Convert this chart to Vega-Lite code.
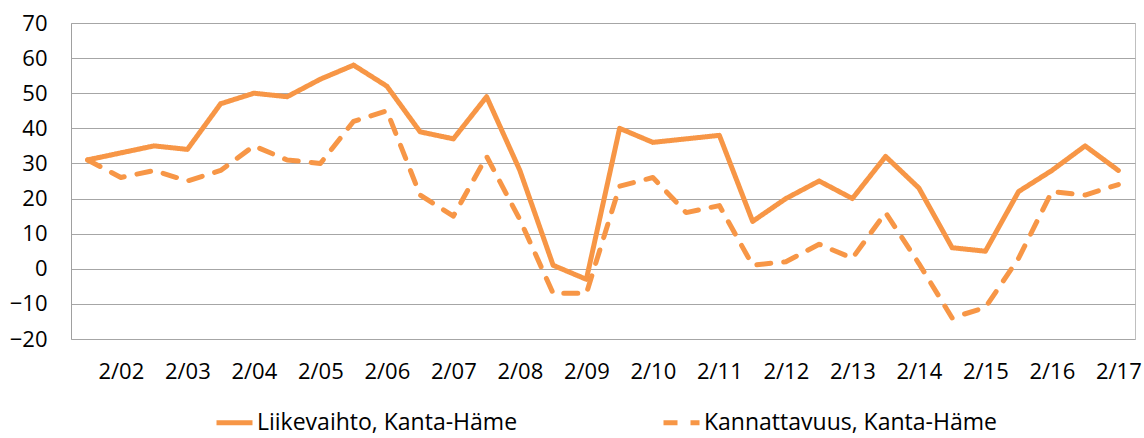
{
  "$schema": "https://vega.github.io/schema/vega-lite/v6.json",
  "width": 1064,
  "height": 316,
  "autosize": {"type": "none"},
  "padding": {"left": 71, "top": 23, "right": 9, "bottom": 99},
  "config": {
    "font": "Open Sans",
    "view": {"stroke": "#BFBFBF", "strokeWidth": 1},
    "axis": {"labelFont": "Open Sans", "labelColor": "#000000", "labelFontSize": 22}
  },
  "data": {
    "values": [
      {"p": "9/01", "s": "Liikevaihto, Kanta-Häme", "v": 31},
      {"p": "2/02", "s": "Liikevaihto, Kanta-Häme", "v": 33},
      {"p": "9/02", "s": "Liikevaihto, Kanta-Häme", "v": 35},
      {"p": "2/03", "s": "Liikevaihto, Kanta-Häme", "v": 34},
      {"p": "9/03", "s": "Liikevaihto, Kanta-Häme", "v": 47},
      {"p": "2/04", "s": "Liikevaihto, Kanta-Häme", "v": 50},
      {"p": "9/04", "s": "Liikevaihto, Kanta-Häme", "v": 49},
      {"p": "2/05", "s": "Liikevaihto, Kanta-Häme", "v": 54},
      {"p": "9/05", "s": "Liikevaihto, Kanta-Häme", "v": 58},
      {"p": "2/06", "s": "Liikevaihto, Kanta-Häme", "v": 52},
      {"p": "9/06", "s": "Liikevaihto, Kanta-Häme", "v": 39},
      {"p": "2/07", "s": "Liikevaihto, Kanta-Häme", "v": 37},
      {"p": "9/07", "s": "Liikevaihto, Kanta-Häme", "v": 49},
      {"p": "2/08", "s": "Liikevaihto, Kanta-Häme", "v": 28},
      {"p": "9/08", "s": "Liikevaihto, Kanta-Häme", "v": 1},
      {"p": "2/09", "s": "Liikevaihto, Kanta-Häme", "v": -3},
      {"p": "9/09", "s": "Liikevaihto, Kanta-Häme", "v": 40},
      {"p": "2/10", "s": "Liikevaihto, Kanta-Häme", "v": 36},
      {"p": "9/10", "s": "Liikevaihto, Kanta-Häme", "v": 37},
      {"p": "2/11", "s": "Liikevaihto, Kanta-Häme", "v": 38},
      {"p": "9/11", "s": "Liikevaihto, Kanta-Häme", "v": 13.5},
      {"p": "2/12", "s": "Liikevaihto, Kanta-Häme", "v": 20},
      {"p": "9/12", "s": "Liikevaihto, Kanta-Häme", "v": 25},
      {"p": "2/13", "s": "Liikevaihto, Kanta-Häme", "v": 20},
      {"p": "9/13", "s": "Liikevaihto, Kanta-Häme", "v": 32},
      {"p": "2/14", "s": "Liikevaihto, Kanta-Häme", "v": 23},
      {"p": "9/14", "s": "Liikevaihto, Kanta-Häme", "v": 6},
      {"p": "2/15", "s": "Liikevaihto, Kanta-Häme", "v": 5},
      {"p": "9/15", "s": "Liikevaihto, Kanta-Häme", "v": 22},
      {"p": "2/16", "s": "Liikevaihto, Kanta-Häme", "v": 28},
      {"p": "9/16", "s": "Liikevaihto, Kanta-Häme", "v": 35},
      {"p": "2/17", "s": "Liikevaihto, Kanta-Häme", "v": 28},
      {"p": "9/01", "s": "Kannattavuus, Kanta-Häme", "v": 31},
      {"p": "2/02", "s": "Kannattavuus, Kanta-Häme", "v": 26},
      {"p": "9/02", "s": "Kannattavuus, Kanta-Häme", "v": 28},
      {"p": "2/03", "s": "Kannattavuus, Kanta-Häme", "v": 25},
      {"p": "9/03", "s": "Kannattavuus, Kanta-Häme", "v": 28},
      {"p": "2/04", "s": "Kannattavuus, Kanta-Häme", "v": 35},
      {"p": "9/04", "s": "Kannattavuus, Kanta-Häme", "v": 31},
      {"p": "2/05", "s": "Kannattavuus, Kanta-Häme", "v": 30},
      {"p": "9/05", "s": "Kannattavuus, Kanta-Häme", "v": 42},
      {"p": "2/06", "s": "Kannattavuus, Kanta-Häme", "v": 45},
      {"p": "9/06", "s": "Kannattavuus, Kanta-Häme", "v": 21},
      {"p": "2/07", "s": "Kannattavuus, Kanta-Häme", "v": 15},
      {"p": "9/07", "s": "Kannattavuus, Kanta-Häme", "v": 32},
      {"p": "2/08", "s": "Kannattavuus, Kanta-Häme", "v": 14},
      {"p": "9/08", "s": "Kannattavuus, Kanta-Häme", "v": -7},
      {"p": "2/09", "s": "Kannattavuus, Kanta-Häme", "v": -7},
      {"p": "9/09", "s": "Kannattavuus, Kanta-Häme", "v": 23.5},
      {"p": "2/10", "s": "Kannattavuus, Kanta-Häme", "v": 26},
      {"p": "9/10", "s": "Kannattavuus, Kanta-Häme", "v": 16},
      {"p": "2/11", "s": "Kannattavuus, Kanta-Häme", "v": 18},
      {"p": "9/11", "s": "Kannattavuus, Kanta-Häme", "v": 1},
      {"p": "2/12", "s": "Kannattavuus, Kanta-Häme", "v": 2},
      {"p": "9/12", "s": "Kannattavuus, Kanta-Häme", "v": 7},
      {"p": "2/13", "s": "Kannattavuus, Kanta-Häme", "v": 3},
      {"p": "9/13", "s": "Kannattavuus, Kanta-Häme", "v": 16},
      {"p": "2/14", "s": "Kannattavuus, Kanta-Häme", "v": 1.5},
      {"p": "9/14", "s": "Kannattavuus, Kanta-Häme", "v": -14},
      {"p": "2/15", "s": "Kannattavuus, Kanta-Häme", "v": -11},
      {"p": "9/15", "s": "Kannattavuus, Kanta-Häme", "v": 3},
      {"p": "2/16", "s": "Kannattavuus, Kanta-Häme", "v": 22},
      {"p": "9/16", "s": "Kannattavuus, Kanta-Häme", "v": 21},
      {"p": "2/17", "s": "Kannattavuus, Kanta-Häme", "v": 24}
    ]
  },
  "mark": {"type": "line", "color": "#F79646", "strokeWidth": 5, "strokeCap": "round", "strokeJoin": "round"},
  "encoding": {
    "x": {
      "field": "p",
      "type": "ordinal",
      "sort": null,
      "title": null,
      "axis": {
        "labelAngle": 0,
        "labelExpr": "substring(datum.label, 0, 2) == '2/' ? datum.label : ''",
        "ticks": false,
        "domain": false,
        "grid": false,
        "labelPadding": 22,
        "labelFontSize": 22
      }
    },
    "y": {
      "field": "v",
      "type": "quantitative",
      "title": null,
      "scale": {"domain": [-20, 70], "nice": false, "zero": false},
      "axis": {
        "values": [-20, -10, 0, 10, 20, 30, 40, 50, 60, 70],
        "ticks": false,
        "domain": true,
        "domainColor": "#A0A0A0",
        "gridColor": "#A6A6A6",
        "labelPadding": 24,
        "labelFontSize": 22
      }
    },
    "strokeDash": {
      "field": "s",
      "type": "nominal",
      "sort": ["Liikevaihto, Kanta-Häme", "Kannattavuus, Kanta-Häme"],
      "scale": {"range": [[1, 0], [14, 13]]},
      "legend": {
        "title": null,
        "orient": "none",
        "direction": "horizontal",
        "legendX": 143,
        "legendY": 379,
        "symbolType": "stroke",
        "symbolSize": 1296,
        "symbolStrokeWidth": 5,
        "symbolStrokeColor": "#F79646",
        "labelFontSize": 23,
        "labelFont": "Open Sans",
        "labelColor": "#000000",
        "labelOffset": 2,
        "columnPadding": 135,
        "labelLimit": 400
      }
    }
  }
}
